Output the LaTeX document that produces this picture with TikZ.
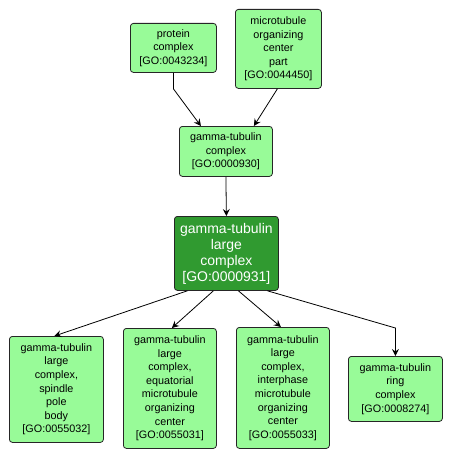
\documentclass[tikz,border=0pt]{standalone}
\usepackage{fontspec}
\setmainfont{Liberation Sans}
\usetikzlibrary{arrows.meta}
\definecolor{lightgo}{HTML}{98FB98}
\definecolor{darkgo}{HTML}{309A30}
\begin{document}
\begin{tikzpicture}[x=1pt,y=-1pt,
  gobox/.style={draw=black!85, line width=0.8pt, rounded corners=3pt, fill=lightgo, inner sep=0pt,
    align=center, font=\fontsize{10.8}{13.6}\selectfont, anchor=north west},
  gomain/.style={gobox, fill=darkgo, text=white, font=\fontsize{14}{16}\selectfont},
  edge/.style={draw=black, line width=0.8pt, -{Stealth[length=7pt,width=7pt,inset=2.5pt]}}]
\useasboundingbox (0,0) rectangle (452,460);
\node[gobox, minimum width=86pt, minimum height=49pt] (pc) at (130,23) {protein\\complex\\{[GO:0043234]}};
\node[gobox, minimum width=86pt, minimum height=79pt] (mt) at (235,9) {microtubule\\organizing\\center\\part\\{[GO:0044450]}};
\node[gobox, minimum width=93pt, minimum height=50pt] (gtc) at (179,126) {gamma-tubulin\\complex\\{[GO:0000930]}};
\node[gomain, minimum width=104pt, minimum height=74pt] (glc) at (174,216) {gamma-tubulin\\large\\complex\\{[GO:0000931]}};
\node[gobox, minimum width=94pt, minimum height=106pt] (sp) at (9,336) {gamma-tubulin\\large\\complex,\\spindle\\pole\\body\\{[GO:0055032]}};
\node[gobox, minimum width=93pt, minimum height=120pt] (eq) at (123,328) {gamma-tubulin\\large\\complex,\\equatorial\\microtubule\\organizing\\center\\{[GO:0055031]}};
\node[gobox, minimum width=93pt, minimum height=121pt] (ip) at (236,327) {gamma-tubulin\\large\\complex,\\interphase\\microtubule\\organizing\\center\\{[GO:0055033]}};
\node[gobox, minimum width=94pt, minimum height=65pt] (rc) at (348,356) {gamma-tubulin\\ring\\complex\\{[GO:0008274]}};
% edges
\draw[edge] (pc.south) -- ++(0,16) -- ([xshift=-25pt]gtc.north);
\draw[edge] ([xshift=-1pt]mt.south) -- ([xshift=28pt]gtc.north);
\draw[edge] (gtc.south) -- (glc.north);
\draw[edge] ([xshift=-39pt]glc.south) -- ([xshift=-2pt]sp.north);
\draw[edge] ([xshift=-13pt]glc.south) -- ([xshift=2pt]eq.north);
\draw[edge] ([xshift=12pt]glc.south) -- ([xshift=-2pt]ip.north);
\draw[edge] ([xshift=41pt]glc.south) -- ([yshift=28pt]rc.north) -- (rc.north);
\end{tikzpicture}
\end{document}
